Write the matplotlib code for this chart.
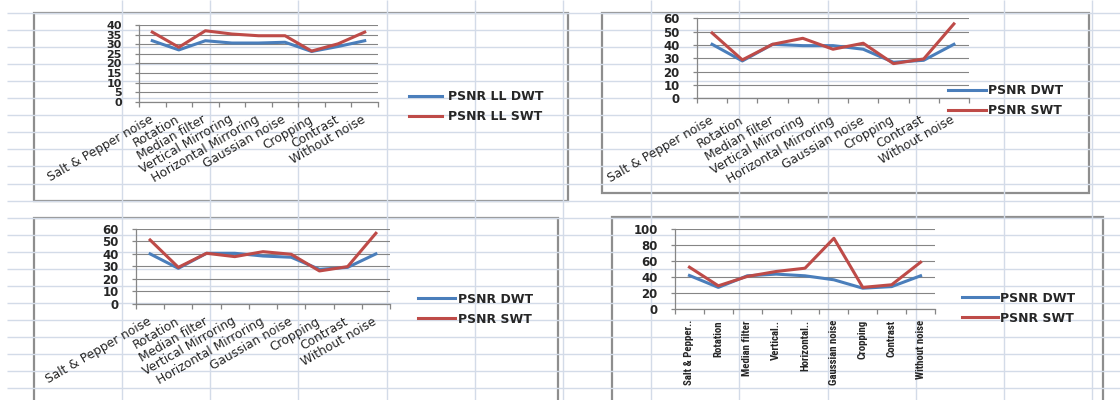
import numpy as np
import matplotlib
matplotlib.use("Agg")
import matplotlib.pyplot as plt
from matplotlib.patches import Rectangle
from matplotlib.ticker import MultipleLocator
from matplotlib import font_manager

# ---- data -------------------------------------------------------------
attacks = ["Salt & Pepper noise", "Rotation", "Median filter", "Vertical Mirroring",
           "Horizontal Mirroring", "Gaussian noise", "Cropping", "Contrast", "Without noise"]
attacks_short = ["Salt & Pepper..", "Rotation", "Median filter", "Vertical..",
                 "Horizontal..", "Gaussian noise", "Cropping", "Contrast", "Without noise"]

psnr_ll_dwt = [31.8, 27.0, 31.8, 30.6, 30.6, 31.0, 26.2, 28.8, 31.8]
psnr_ll_swt = [36.3, 28.4, 37.0, 35.3, 34.4, 34.4, 26.4, 30.2, 36.3]

psnr_dwt_a = [40.5, 28.0, 40.5, 39.5, 39.5, 36.8, 27.0, 28.5, 40.5]
psnr_swt_a = [49.0, 28.8, 40.5, 45.0, 36.8, 41.3, 26.0, 29.5, 55.8]

psnr_dwt_b = [40.0, 28.4, 40.5, 40.5, 38.3, 37.3, 27.6, 29.2, 40.0]
psnr_swt_b = [51.2, 29.2, 40.5, 37.8, 41.8, 39.7, 26.3, 29.8, 56.6]

psnr_dwt_c = [41.9, 27.0, 41.5, 43.6, 41.5, 36.5, 26.0, 28.0, 41.5]
psnr_swt_c = [52.3, 29.0, 40.7, 46.9, 51.0, 88.4, 27.0, 30.3, 58.5]

# ---- styling ----------------------------------------------------------
W, H = 1120, 400
BLUE = "#4a7ebb"
RED = "#be4b48"
SHEET = "#d3dbe8"
GRIDC = "#858585"
AXC = "#868686"
TXT = "#262626"
BORDER = "#8e8e8e"

# a narrow face for the vertical category labels, if one is installed
NARROW, NARROW_SIZE, NARROW_STRETCH = "DejaVu Sans", 6.8, "normal"
_fonts = font_manager.fontManager.ttflist
for cand in ("Liberation Sans Narrow", "Roboto Condensed", "Open Sans Condensed",
             "DejaVu Sans Condensed"):
    if any(f.name == cand for f in _fonts):
        NARROW, NARROW_SIZE = cand, 7.8
        break
else:
    for f in _fonts:
        if f.name in ("DejaVu Sans", "Open Sans", "Roboto", "Noto Sans") and \
                str(f.stretch) in ("condensed", "semi-condensed", "extra-condensed"):
            NARROW, NARROW_SIZE, NARROW_STRETCH = f.name, 7.2, f.stretch
            break

fig = plt.figure(figsize=(W / 100, H / 100), dpi=100)
fig.patch.set_facecolor("white")


def frac(x0, y0, x1, y1):
    return [x0 / W, 1 - y1 / H, (x1 - x0) / W, (y1 - y0) / H]


# worksheet background with cell grid and chart frames
bg = fig.add_axes([0, 0, 1, 1], zorder=-5)
bg.set_xlim(0, W)
bg.set_ylim(H, 0)
bg.axis("off")
for y in np.arange(13, H, 17.05):
    bg.hlines(y, 7, W, color=SHEET, lw=1.0)
for x in np.arange(122, W, 88.2):
    bg.vlines(x, 0, H, color=SHEET, lw=1.0)
for (x0, y0, x1, y1) in [(34, 13, 568, 201), (602, 13, 1089, 193),
                         (34, 218, 558, 410), (612, 217, 1103, 410)]:
    bg.add_patch(Rectangle((x0, y0), x1 - x0, y1 - y0, facecolor="white",
                           edgecolor=BORDER, lw=1.6))


def line_chart(rect, dwt, swt, ymax, ystep, labels, series, leg_x, leg_y,
               handle_px, gap_px, xpad=10, vertical=False, ysize=8.5):
    ax = fig.add_axes(frac(*rect))
    x = np.arange(len(dwt))
    ax.plot(x, dwt, color=BLUE, lw=2.2, label=series[0], solid_joinstyle="round")
    ax.plot(x, swt, color=RED, lw=2.2, label=series[1], solid_joinstyle="round")
    ax.set_xlim(-0.5, len(x) - 0.5)
    ax.set_ylim(0, ymax)
    ax.yaxis.set_major_locator(MultipleLocator(ystep))
    ax.grid(axis="y", color=GRIDC, lw=0.8)
    ax.set_axisbelow(True)
    ax.set_facecolor("none")
    for s in ("top", "right"):
        ax.spines[s].set_visible(False)
    for s in ("left", "bottom"):
        ax.spines[s].set_color(AXC)
        ax.spines[s].set_linewidth(0.9)

    ax.set_xticks(x)
    ax.set_xticks(np.arange(-0.5, len(x)), minor=True)
    ax.tick_params(axis="x", which="minor", length=3.8, width=0.9, color=AXC, direction="out")
    ax.tick_params(axis="y", which="major", length=3.0, width=0.9, color=AXC, direction="out",
                   pad=9.5, labelcolor=TXT)
    for t in ax.get_yticklabels():
        t.set_fontweight("bold")
        t.set_fontsize(ysize)

    if vertical:
        ax.tick_params(axis="x", which="major", length=0, pad=xpad)
        ax.set_xticklabels(labels, rotation=90, ha="center", va="top",
                           fontsize=NARROW_SIZE, fontweight="bold", family=NARROW,
                           fontstretch=NARROW_STRETCH, color=TXT)
    else:
        ax.tick_params(axis="x", which="major", length=0, pad=xpad)
        ax.set_xticklabels(labels, rotation=30, ha="right", va="center",
                           rotation_mode="anchor", fontsize=8.8, color=TXT)

    fs = 9.0
    fpx = fs * 100 / 72
    ax.legend(loc="upper left", bbox_to_anchor=(leg_x / W, 1 - (leg_y - 6.3) / H),
              bbox_transform=fig.transFigure, frameon=False, borderpad=0,
              borderaxespad=0, handlelength=handle_px / fpx,
              handletextpad=gap_px / fpx, labelspacing=0.55,
              prop={"size": fs, "weight": "bold"}, labelcolor=TXT)
    return ax


line_chart((139, 25, 378, 101.7), psnr_ll_dwt, psnr_ll_swt, 40, 5, attacks,
           ["PSNR LL DWT", "PSNR LL SWT"], 409, 96.7, 33, 6, xpad=12, ysize=8)
line_chart((697, 18.3, 969, 98.3), psnr_dwt_a, psnr_swt_a, 60, 10, attacks,
           ["PSNR DWT", "PSNR SWT"], 948, 90.7, 38, 2, xpad=15)
line_chart((136, 229, 390, 303.7), psnr_dwt_b, psnr_swt_b, 60, 10, attacks,
           ["PSNR DWT", "PSNR SWT"], 418, 299, 37, 3, xpad=12)
line_chart((675, 229, 935, 309), psnr_dwt_c, psnr_swt_c, 100, 20, attacks_short,
           ["PSNR DWT", "PSNR SWT"], 962, 298, 36, 2, xpad=8, vertical=True)

fig.savefig("out.png", dpi=100)
